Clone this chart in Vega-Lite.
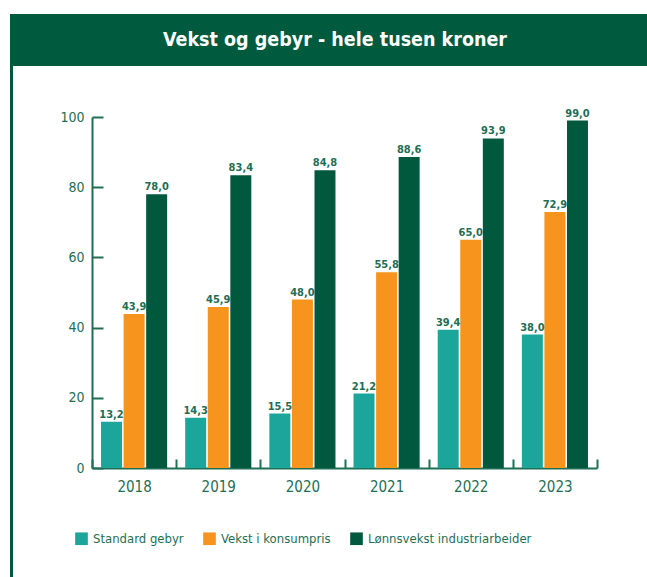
{
  "$schema": "https://vega.github.io/schema/vega-lite/v6.json",
  "padding": {"left": 10, "top": 14, "right": 0, "bottom": 0},
  "background": "white",
  "config": {
    "locale": {"number": {"decimal": ",", "thousands": " ", "grouping": [3], "currency": ["", " kr"]}},
    "font": "DejaVu Sans Condensed, Roboto, sans-serif",
    "view": {"stroke": null}
  },
  "spacing": 0,
  "bounds": "flush",
  "hconcat": [
    {
      "width": 3,
      "height": 563,
      "view": {"fill": "#005A3E", "stroke": null},
      "data": {"values": [{"k": 1}]},
      "mark": {"type": "rect", "color": "#005A3E"},
      "encoding": {}
    },
    {
      "spacing": 51,
      "bounds": "flush",
      "vconcat": [
        {
          "width": 634,
          "height": 52,
          "view": {"fill": "#005A3E", "stroke": null},
          "data": {"values": [{"t": "Vekst og gebyr - hele tusen kroner"}]},
          "mark": {"type": "text", "color": "white", "font": "DejaVu Sans Condensed, Roboto, sans-serif", "fontWeight": "bold", "fontSize": 19.5, "baseline": "middle", "align": "center", "dx": 5},
          "encoding": {"text": {"field": "t", "type": "nominal"}}
        },
        {
          "spacing": 78,
          "bounds": "flush",
          "hconcat": [
            {
              "width": 1,
              "height": 351,
              "data": {"values": [{"k": ""}]},
              "mark": {"type": "text", "opacity": 0},
              "encoding": {"text": {"field": "k", "type": "nominal"}}
            },
            {
              "width": 505,
              "height": 351,
              "data": {"values": [
                {"year": "2018", "serie": "Standard gebyr", "verdi": 13.2},
                {"year": "2018", "serie": "Vekst i konsumpris", "verdi": 43.9},
                {"year": "2018", "serie": "Lønnsvekst industriarbeider", "verdi": 78.0},
                {"year": "2019", "serie": "Standard gebyr", "verdi": 14.3},
                {"year": "2019", "serie": "Vekst i konsumpris", "verdi": 45.9},
                {"year": "2019", "serie": "Lønnsvekst industriarbeider", "verdi": 83.4},
                {"year": "2020", "serie": "Standard gebyr", "verdi": 15.5},
                {"year": "2020", "serie": "Vekst i konsumpris", "verdi": 48.0},
                {"year": "2020", "serie": "Lønnsvekst industriarbeider", "verdi": 84.8},
                {"year": "2021", "serie": "Standard gebyr", "verdi": 21.2},
                {"year": "2021", "serie": "Vekst i konsumpris", "verdi": 55.8},
                {"year": "2021", "serie": "Lønnsvekst industriarbeider", "verdi": 88.6},
                {"year": "2022", "serie": "Standard gebyr", "verdi": 39.4},
                {"year": "2022", "serie": "Vekst i konsumpris", "verdi": 65.0},
                {"year": "2022", "serie": "Lønnsvekst industriarbeider", "verdi": 93.9},
                {"year": "2023", "serie": "Standard gebyr", "verdi": 38.0},
                {"year": "2023", "serie": "Vekst i konsumpris", "verdi": 72.9},
                {"year": "2023", "serie": "Lønnsvekst industriarbeider", "verdi": 99.0}
              ]},
              "encoding": {
                "x": {
                  "field": "year", "type": "nominal", "title": null,
                  "scale": {"paddingInner": 0, "paddingOuter": 0},
                  "axis": {
                    "labelAngle": 0, "tickBand": "extent", "tickSize": -9, "tickWidth": 2,
                    "tickColor": "#1F6E55", "domainColor": "#1F6E55", "domainWidth": 2,
                    "labelColor": "#1F6E55", "labelFontSize": 15, "labelPadding": 20,
                    "grid": false
                  }
                },
                "xOffset": {
                  "field": "serie", "type": "nominal",
                  "sort": ["Standard gebyr", "Vekst i konsumpris", "Lønnsvekst industriarbeider"],
                  "scale": {"paddingInner": 0.07, "paddingOuter": 0.4}
                },
                "y": {
                  "field": "verdi", "type": "quantitative", "title": null,
                  "scale": {"domain": [0, 100], "nice": false},
                  "axis": {
                    "values": [0, 20, 40, 60, 80, 100], "tickSize": -11, "tickWidth": 2,
                    "tickColor": "#1F6E55", "domainColor": "#1F6E55", "domainWidth": 2,
                    "labelColor": "#1F6E55", "labelFontSize": 14, "labelPadding": 19,
                    "grid": false
                  }
                }
              },
              "layer": [
                {
                  "mark": {"type": "bar"},
                  "encoding": {
                    "color": {
                      "field": "serie", "type": "nominal",
                      "scale": {
                        "domain": ["Standard gebyr", "Vekst i konsumpris", "Lønnsvekst industriarbeider"],
                        "range": ["#1CA59A", "#F7941E", "#00593D"]
                      },
                      "legend": {
                        "title": null, "orient": "none", "legendX": 65, "legendY": 518,
                        "direction": "horizontal", "symbolType": "square", "symbolSize": 160,
                        "symbolStrokeWidth": 0, "symbolOpacity": 1, "labelFontSize": 13,
                        "labelColor": "#1F6E55", "labelOffset": 5, "columnPadding": 19,
                        "labelLimit": 400, "padding": 0
                      }
                    }
                  }
                },
                {
                  "mark": {"type": "text", "baseline": "alphabetic", "dy": -4, "fontWeight": "bold", "fontSize": 11, "color": "#1F6E55"},
                  "encoding": {"text": {"field": "verdi", "type": "quantitative", "format": ".1f"}}
                }
              ]
            }
          ]
        }
      ]
    }
  ]
}
